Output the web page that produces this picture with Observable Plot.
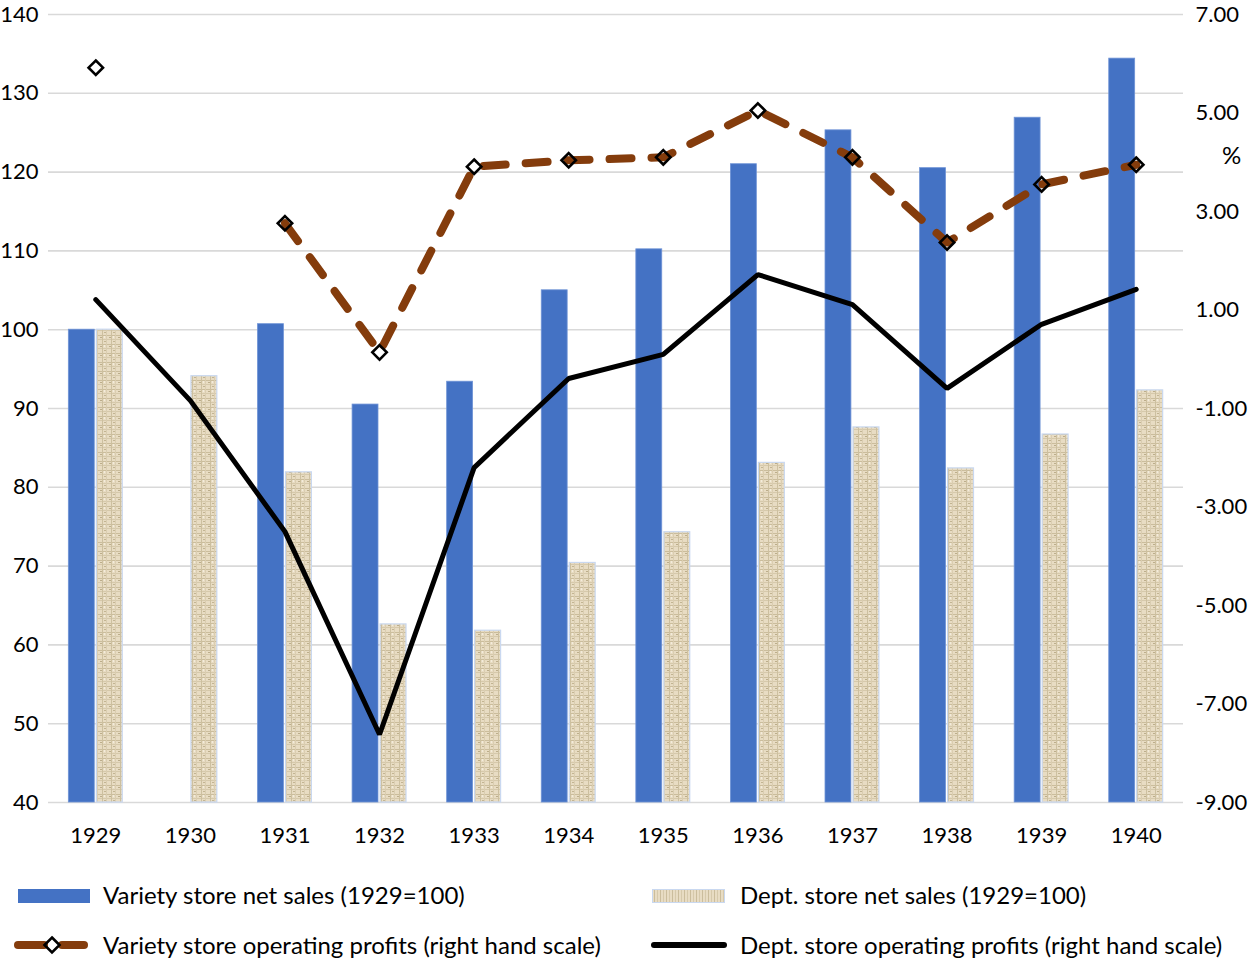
<!DOCTYPE html>
<html>
<head>
<meta charset="utf-8">
<script src="https://cdn.jsdelivr.net/npm/d3@7"></script>
<script src="https://cdn.jsdelivr.net/npm/@observablehq/plot@0.6"></script>
<style>
  body { margin: 0; background: #fff; font-family: Lato, "Open Sans", sans-serif; }
  #wrap { position: relative; width: 1250px; height: 962px; }
  .leg { position: absolute; font-size: 24px; color: #000; white-space: nowrap; line-height: 1; }
  .sw { position: absolute; }
</style>
</head>
<body>
<div id="wrap"></div>
<script>
const years = [1929, 1930, 1931, 1932, 1933, 1934, 1935, 1936, 1937, 1938, 1939, 1940];
const varietySales = [100, null, 100.7, 90.5, 93.4, 105, 110.2, 121, 125.3, 120.5, 126.9, 134.4];
const deptSales = [100, 94.1, 81.9, 62.6, 61.8, 70.4, 74.3, 83.1, 87.6, 82.4, 86.7, 92.3];
const varietyProfits = [5.92, null, 2.76, 0.14, 3.91, 4.04, 4.10, 5.05, 4.10, 2.37, 3.55, 3.95];
const deptProfits = [1.21, -0.84, -3.5, -7.62, -2.2, -0.39, 0.1, 1.72, 1.11, -0.59, 0.71, 1.42];
const leftTicks = [40, 50, 60, 70, 80, 90, 100, 110, 120, 130, 140];
const rightTicks = [-9, -7, -5, -3, -1, 1, 3, 5, 7];
const legendLabels = [
  "Variety store net sales (1929=100)",
  "Dept. store net sales (1929=100)",
  "Variety store operating profits (right hand scale)",
  "Dept. store operating profits (right hand scale)"
];

// right-hand scale mapped onto left-hand scale: -9 -> 40, 7 -> 140
const toLeft = r => r == null ? NaN : 40 + (r + 9) * 100 / 16;
const fromLeft = l => (l - 40) * 16 / 100 - 9;

const rows = years.map((y, i) => ({
  year: String(y),
  vs: varietySales[i],
  ds: deptSales[i],
  vp: toLeft(varietyProfits[i]),
  dp: toLeft(deptProfits[i])
}));

const chart = Plot.plot({
  width: 1250,
  height: 862,
  marginLeft: 48,
  marginRight: 67,
  marginTop: 14,
  marginBottom: 60,
  style: { fontFamily: "Lato, 'Open Sans', sans-serif", fontSize: "22px", color: "#000", background: "#fff" },
  x: { type: "band", domain: years.map(String), paddingInner: 0.43, paddingOuter: 0.215, round: false, label: null },
  y: { domain: [40, 140], label: null },
  marks: [
    Plot.ruleY(leftTicks, { stroke: "#d9d9d9", strokeWidth: 1.6 }),
    Plot.barY(rows.filter(d => d.vs != null), { x: "year", y1: 40, y2: "vs", fill: "#4472C4", stroke: "#6f93d6", strokeWidth: 0.8, insetRight: 28 }),
    Plot.barY(rows, { x: "year", y1: 40, y2: "ds", fill: "url(#deptTex)", stroke: "#c9d8f0", strokeWidth: 1.2, insetLeft: 28 }),
    Plot.line(rows, { x: "year", y: "dp", stroke: "#000", strokeWidth: 5, strokeLinejoin: "miter" }),
    Plot.line(rows, { x: "year", y: "vp", stroke: "#843C0C", strokeWidth: 8, strokeDasharray: "22,20", strokeLinecap: "round", strokeLinejoin: "round" }),
    Plot.dot(rows.filter(d => !isNaN(d.vp)), { x: "year", y: "vp", symbol: "diamond2", r: 6.5, stroke: "#000", strokeWidth: 2.6, fill: "none" }),
    Plot.axisY(leftTicks, { anchor: "left", tickSize: 0, tickPadding: 10, label: null, fontSize: 22 }),
    Plot.axisY(rightTicks.map(toLeft), { anchor: "right", tickSize: 0, tickPadding: 12, label: null, fontSize: 22,
      tickFormat: l => fromLeft(l).toFixed(2) }),
    Plot.axisX({ anchor: "bottom", tickSize: 0, tickPadding: 25, label: null, fontSize: 22 })
  ]
});

// texture pattern for dept store bars
const ns = "http://www.w3.org/2000/svg";
const defs = document.createElementNS(ns, "defs");
defs.innerHTML = `
  <pattern id="deptTex" patternUnits="userSpaceOnUse" width="9" height="9">
    <rect width="9" height="9" fill="#e8dcc3"/>
    <rect x="0" y="2" width="9" height="1" fill="#cbbd9c"/>
    <rect x="0" y="6" width="9" height="1" fill="#d6c9ab"/>
    <rect x="3" y="0" width="1" height="9" fill="#cdc0a0"/>
    <rect x="7" y="0" width="1" height="9" fill="#dacdb1"/>
    <rect x="1" y="4" width="2" height="1" fill="#bcad8a"/>
    <rect x="5" y="8" width="2" height="1" fill="#c2b492"/>
    <rect x="5" y="3" width="1" height="2" fill="#f3ecdc"/>
  </pattern>`;
chart.insertBefore(defs, chart.firstChild);

const wrap = document.getElementById("wrap");
wrap.appendChild(chart);

// "%" label for right axis
const pct = document.createElement("div");
pct.className = "leg";
pct.style.left = "1222px";
pct.style.top = "143px";
pct.style.fontSize = "24px";
pct.textContent = "%";
wrap.appendChild(pct);

// legend
function addText(txt, x, y) {
  const d = document.createElement("div");
  d.className = "leg";
  d.style.left = x + "px";
  d.style.top = y + "px";
  d.textContent = txt;
  wrap.appendChild(d);
}
function addSwatch(svgInner, x, y, w, h) {
  const s = document.createElementNS(ns, "svg");
  s.setAttribute("class", "sw");
  s.setAttribute("width", w);
  s.setAttribute("height", h);
  s.style.left = x + "px";
  s.style.top = y + "px";
  s.innerHTML = svgInner;
  wrap.appendChild(s);
}
addSwatch(`<rect x="0" y="0" width="72" height="14" fill="#4472C4"/>`, 18, 889, 72, 14);
addText(legendLabels[0], 103, 883);
addSwatch(`<defs><pattern id="legTex" patternUnits="userSpaceOnUse" width="6" height="6">
    <rect width="6" height="6" fill="#e8dcc3"/><rect x="2" width="1" height="6" fill="#cbbd9c"/><rect x="5" width="1" height="6" fill="#d6c9ab"/></pattern></defs>
    <rect x="0.5" y="0.5" width="72" height="13" fill="url(#legTex)" stroke="#c9d8f0" stroke-width="1"/>`, 652, 889, 74, 15);
addText(legendLabels[1], 740, 883);
addSwatch(`<line x1="6" y1="10" x2="32" y2="10" stroke="#843C0C" stroke-width="8" stroke-linecap="round"/>
    <line x1="50" y1="10" x2="72" y2="10" stroke="#843C0C" stroke-width="8" stroke-linecap="round"/>
    <path d="M40,2.5 L47.5,10 L40,17.5 L32.5,10 Z" fill="none" stroke="#000" stroke-width="2.6"/>`, 12, 935, 80, 20);
addText(legendLabels[2], 103, 933);
addSwatch(`<line x1="4" y1="10" x2="74" y2="10" stroke="#000" stroke-width="6" stroke-linecap="round"/>`, 650, 935, 80, 20);
addText(legendLabels[3], 740, 933);
</script>
</body>
</html>
